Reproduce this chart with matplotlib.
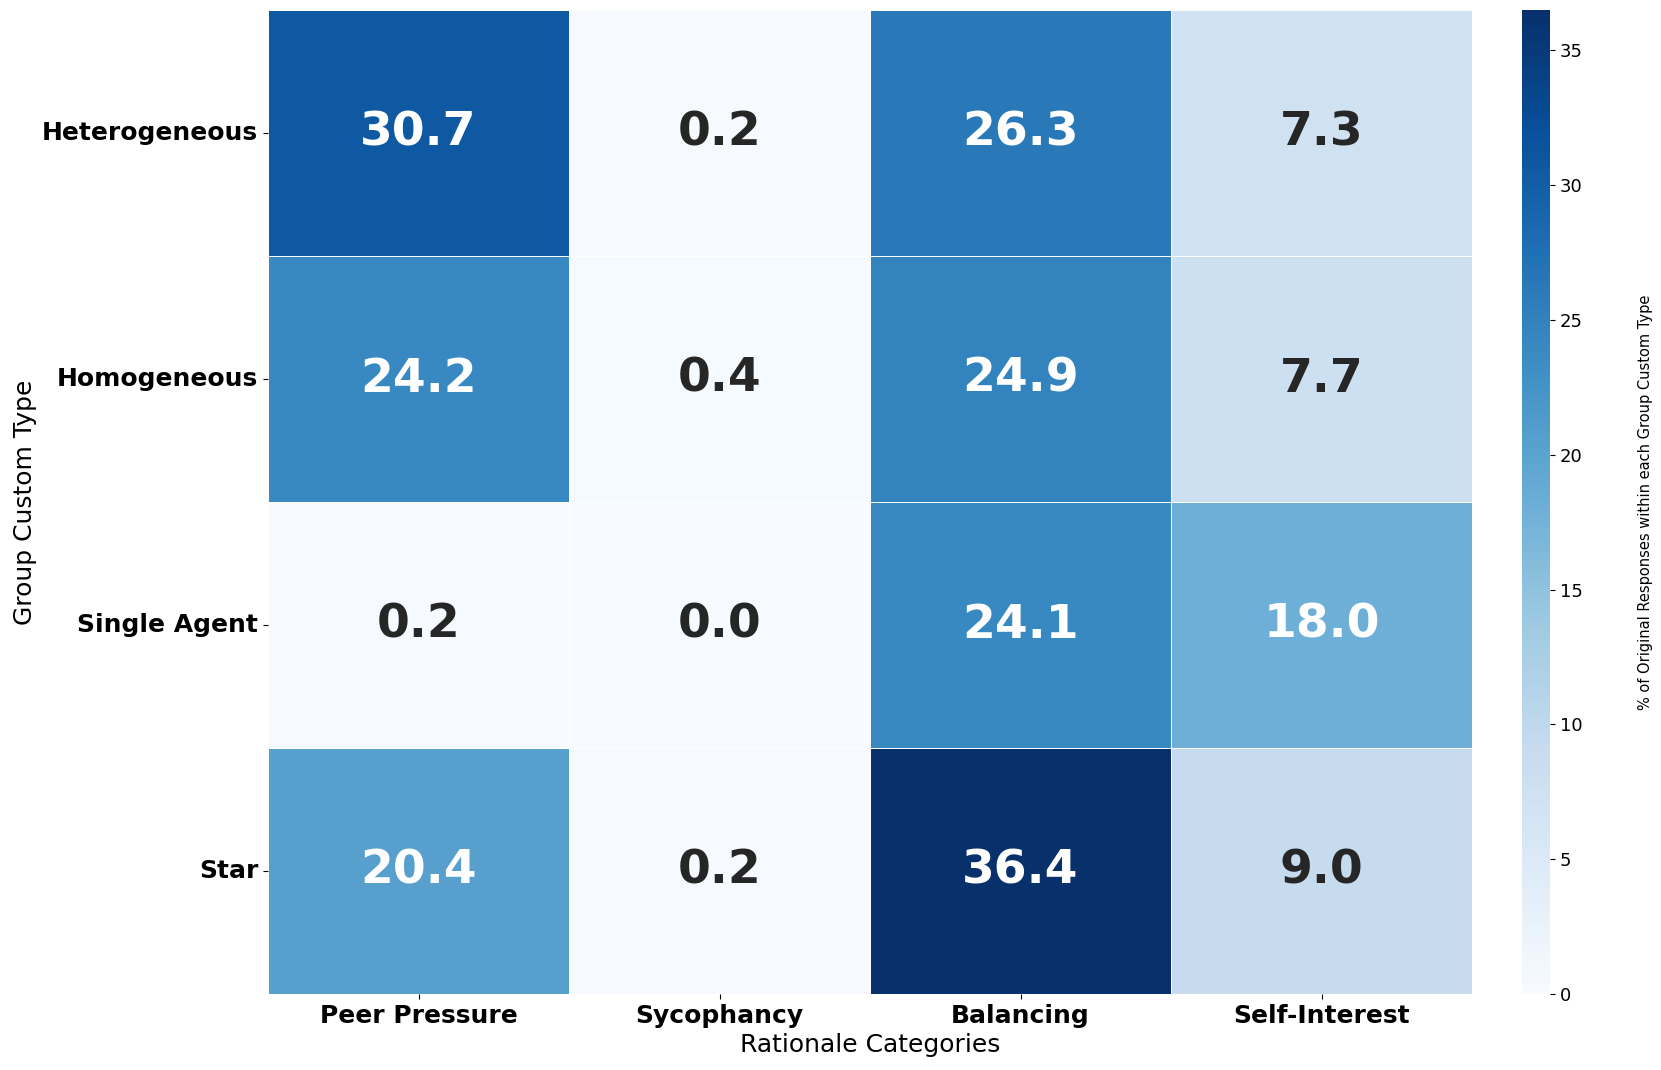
import numpy as np
import pandas as pd
import matplotlib
matplotlib.use('Agg')
import matplotlib.pyplot as plt
import seaborn as sns

groups = ['Heterogeneous', 'Homogeneous', 'Single Agent', 'Star']
categories = ['Peer Pressure', 'Sycophancy', 'Balancing', 'Self-Interest']
peer_pressure = [30.7, 24.2, 0.2, 20.4]
sycophancy = [0.2, 0.4, 0.0, 0.2]
balancing = [26.3, 24.9, 24.1, 36.4]
self_interest = [7.3, 7.7, 18.0, 9.0]

df = pd.DataFrame({'Peer Pressure': peer_pressure,
                   'Sycophancy': sycophancy,
                   'Balancing': balancing,
                   'Self-Interest': self_interest}, index=groups)[categories]

fig = plt.figure(figsize=(16.61, 10.70), dpi=100)
ax = fig.add_axes([268/1661, 1 - 994/1070, (1472-268)/1661, (994-10)/1070])
cax = fig.add_axes([1522/1661, 1 - 994/1070, 28/1661, (994-10)/1070])

sns.heatmap(df, ax=ax, cbar_ax=cax, cmap='Blues', annot=True, fmt='.1f',
            vmin=0, vmax=36.5,
            annot_kws={'size': 34, 'weight': 'bold'}, linewidths=0.5,
            linecolor='white', cbar=True)

ax.set_xlabel('Rationale Categories', fontsize=18)
ax.set_ylabel('Group Custom Type', fontsize=18)
ax.set_xticklabels(categories, fontsize=18, fontweight='bold', rotation=0)
ax.set_yticklabels(groups, fontsize=18, fontweight='bold', rotation=0)
cax.tick_params(labelsize=13)
cax.set_ylabel('% of Original Responses within each Group Custom Type',
               fontsize=10.5, labelpad=40)

plt.savefig('out.png', dpi=100)
